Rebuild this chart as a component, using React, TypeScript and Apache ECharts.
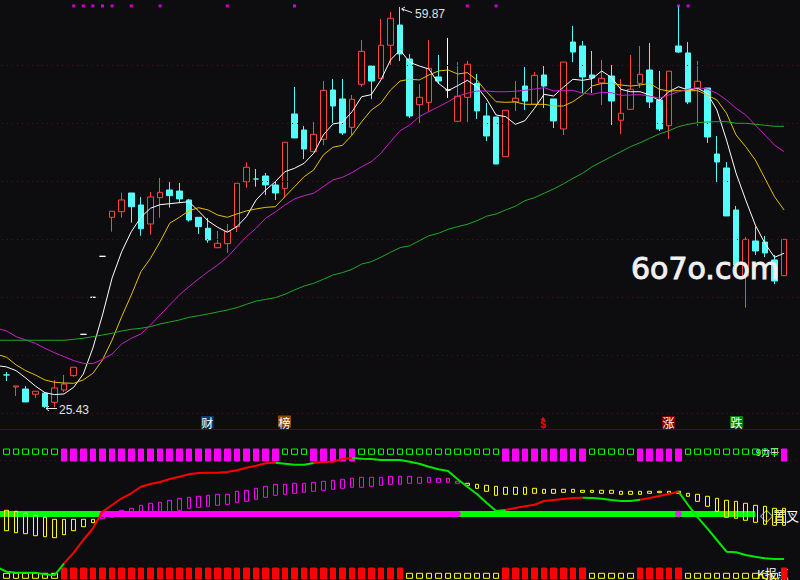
import React, { useEffect, useRef } from "react";
import * as echarts from "echarts";

// prices; first entry is the bar cut off at the left edge
const open = [29.89,
  28.26,27.23,27.05,26.60,26.69,25.91,26.97,28.20,31.75,34.93,
  38.45,41.80,42.29,43.89,42.86,41.23,43.49,44.15,44.06,43.29,
  41.80,40.86,39.19,39.54,41.00,44.86,45.09,45.35,44.58,44.29,
  50.68,49.30,47.44,48.50,52.74,51.97,49.53,53.23,54.80,53.74,
  56.58,58.32,55.40,51.48,51.68,53.86,52.74,50.05,52.11,53.31,
  50.51,50.42,47.01,51.73,53.08,51.51,54.03,51.97,49.39,56.86,
  56.52,54.03,53.34,53.94,50.14,51.08,53.31,54.46,51.88,49.67,
  56.52,55.92,52.88,52.91,47.24,46.04,42.43,36.76,39.77,39.68,
  38.14,36.79];
const close = [28.86,
  28.26,27.31,25.94,26.86,25.54,27.14,27.48,28.92,31.75,34.93,
  38.45,42.32,43.29,42.71,40.82,43.55,43.95,43.66,43.38,41.57,
  41.00,39.85,39.57,40.60,44.72,46.10,45.09,44.58,43.89,48.25,
  48.62,47.67,48.93,52.71,51.36,49.05,51.94,56.06,53.51,56.58,
  58.90,55.83,50.51,52.11,54.60,53.51,52.74,52.20,54.95,50.94,
  48.79,46.38,51.00,52.03,51.79,54.00,53.08,50.08,55.14,56.00,
  53.86,53.77,53.74,51.79,50.74,52.80,54.09,51.71,49.39,54.35,
  56.00,51.71,53.49,48.70,46.55,41.92,37.71,39.91,38.91,38.74,
  36.33,39.91];
const low = [28.86,
  27.74,26.45,25.94,26.28,25.43,25.47,26.80,28.11,31.75,34.93,
  38.45,40.57,41.77,41.34,40.22,40.31,41.77,42.63,43.01,41.43,
  40.37,39.62,39.19,38.76,40.54,44.35,44.43,43.72,43.29,43.52,
  48.62,46.81,47.44,47.99,49.82,48.87,48.87,53.02,51.97,53.74,
  54.89,55.23,50.33,49.90,50.88,53.25,52.05,50.05,49.99,50.25,
  48.36,46.38,47.01,50.94,51.02,51.51,51.19,49.47,48.87,55.14,
  52.48,52.48,51.45,49.73,48.96,51.08,52.91,51.19,49.22,48.53,
  55.92,51.54,49.65,48.19,44.84,41.92,37.71,34.04,38.57,38.39,
  36.07,36.79];
const high = [29.89,
  28.52,27.31,27.31,26.86,26.80,27.83,28.26,28.92,31.75,34.93,
  38.45,42.32,43.92,43.89,43.55,43.98,45.18,44.84,44.75,43.38,
  41.80,41.74,40.63,41.23,44.72,46.53,45.95,45.61,44.84,48.25,
  53.00,49.65,49.99,53.51,53.68,53.68,52.31,57.03,54.80,58.84,
  59.44,59.87,55.83,53.25,57.03,55.75,57.21,55.14,55.23,54.11,
  51.62,50.42,51.00,53.51,54.71,54.29,54.80,51.97,55.14,58.24,
  56.95,56.09,55.32,54.89,53.68,55.75,56.52,56.78,54.37,54.35,
  59.95,56.86,55.23,52.91,48.79,46.55,42.77,40.11,41.00,40.20,
  38.57,39.91];

const whiteFlatBars = [9, 10, 11, 47]; // one-price bars drawn white

const ma5 = [29.06,
  28.95,28.63,28.00,27.31,26.74,26.57,26.63,27.20,28.34,30.58,
  33.41,36.59,38.85,40.57,41.80,42.58,42.89,42.97,43.06,43.14,
  42.35,41.49,40.94,40.52,41.00,41.86,43.29,44.15,44.86,45.72,
  46.01,46.44,47.30,48.87,49.82,49.96,50.88,52.16,52.34,53.60,
  55.32,56.17,55.12,54.80,54.54,53.31,52.68,53.11,53.57,53.02,
  51.97,50.59,50.45,49.79,50.10,51.17,52.37,52.22,52.97,53.66,
  53.57,53.71,54.37,53.83,52.80,52.59,52.59,52.31,51.82,52.59,
  53.02,52.74,52.88,52.46,51.02,48.44,45.58,43.29,41.14,39.57,
  38.37,38.71];
const ma10 = [30.04,
  29.78,29.12,28.63,28.26,27.83,27.63,27.57,27.54,27.83,28.40,
  29.55,31.26,33.27,35.13,37.13,38.28,39.71,41.29,41.80,42.35,
  42.63,42.43,42.00,41.80,42.09,42.35,42.52,42.66,42.71,43.57,
  44.43,45.29,45.87,47.16,47.82,47.99,48.87,50.02,51.02,51.60,
  52.74,53.51,53.66,53.60,54.03,54.37,54.46,54.11,54.23,53.60,
  52.59,51.73,51.68,51.71,51.51,51.51,51.51,51.36,51.36,51.73,
  52.31,53.08,53.31,53.31,53.17,53.08,53.17,53.31,52.80,52.65,
  52.68,52.68,52.68,52.31,51.88,50.74,48.87,47.87,46.73,45.15,
  43.57,42.43];
const ma30 = [32.27,
  32.04,31.55,31.26,30.98,30.55,30.17,29.83,29.49,29.26,29.23,
  29.60,30.06,30.92,31.41,31.78,32.55,33.41,34.27,35.13,35.84,
  36.50,37.13,37.71,38.37,39.28,40.14,40.86,41.72,42.26,42.86,
  43.38,43.66,43.87,44.43,45.01,45.24,45.64,46.15,46.58,47.30,
  48.30,49.24,49.73,50.45,50.88,51.30,51.73,52.22,52.46,52.65,
  52.65,52.59,52.59,52.63,52.71,52.82,52.94,52.65,52.71,52.71,
  52.46,52.37,52.54,52.51,52.28,52.31,52.34,52.22,52.03,52.31,
  52.59,52.80,52.94,52.82,52.46,51.88,51.17,50.59,49.73,48.87,
  48.01,47.44];
const ma120 = [31.24,
  31.24,31.24,31.24,31.24,31.24,31.24,31.24,31.32,31.41,31.55,
  31.69,31.84,32.04,32.18,32.27,32.41,32.64,32.81,32.98,33.21,
  33.35,33.50,33.67,33.84,34.04,34.33,34.61,34.75,34.90,35.19,
  35.56,35.90,36.13,36.48,36.85,37.05,37.34,37.79,37.99,38.37,
  38.80,39.19,39.36,39.79,40.22,40.43,40.77,41.00,41.20,41.51,
  41.89,42.09,42.43,42.75,43.23,43.49,43.87,44.24,44.67,45.15,
  45.58,46.15,46.58,47.01,47.44,47.87,48.21,48.59,48.96,49.24,
  49.59,49.79,49.93,49.99,50.02,50.02,49.88,49.88,49.79,49.71,
  49.62,49.62];

const topSignalBars = [8, 9, 10, 11, 12, 14, 17, 24, 31, 49, 52, 71, 72];
const gridPrices = [54.86, 49.88, 44.90, 39.92, 34.93, 29.95, 24.97];

// lower indicator
const histTop = [null,
  3.7,2.7,0.7,-1.3,-3.3,-5.3,-5.3,-5.3,-5.3,-5.3,
  -1.3,0.7,3.7,5.7,8.7,10.7,11.7,13.7,15.7,16.7,
  17.7,18.7,19.7,19.7,22.7,23.7,25.7,27.7,29.7,29.7,
  30.7,30.7,31.7,32.7,33.7,34.7,35.7,36.7,36.7,36.7,
  37.7,37.7,37.7,36.7,36.7,35.7,35.7,32.7,30.7,29.7,
  28.7,27.7,26.7,26.7,26.7,25.7,24.7,24.7,24.7,24.7,
  23.7,23.7,23.7,23.7,22.7,22.7,22.7,22.7,22.7,22.7,
  22.7,20.7,19.7,17.7,15.7,13.7,12.7,10.7,8.7,7.7,
  5.7,5.7];
const histBottom = [null,
  -16.7,-18.7,-19.7,-21.7,-22.7,-23.7,-20.7,-16.7,-12.7,-8.7,
  -4.7,-3.3,-2.7,-1.7,-0.7,0.7,1.7,2.3,3.7,5.7,
  6.7,7.7,8.7,9.7,11.7,12.7,14.7,16.7,18.7,19.7,
  20.7,21.7,22.7,23.7,24.7,25.7,26.7,26.7,27.7,28.7,
  29.7,29.7,30.7,30.7,31.7,31.7,31.7,30.7,28.7,25.7,
  22.7,18.7,19.7,19.7,19.7,20.7,20.7,20.7,21.7,21.7,
  21.7,21.7,20.7,20.7,19.7,19.7,19.7,20.7,21.3,20.7,
  20.7,17.7,12.7,7.7,2.7,-3.3,-4.3,-6.3,-8.3,-10.3,
  -11.3,-11.3];
const signal = [-53.3,
  -57.7,-58.7,-58.7,-58.7,-60.3,-61.3,-49.3,-38.7,-26,-14.3,
  2.3,9,15.7,20.7,27.3,30,32,35,37.3,39.7,
  41,41.3,41.3,42,43.7,46.3,48.3,50.7,51.3,50.3,
  49.3,49.3,51,52,52.3,55,56,55.3,55,54,
  54,54,52.3,50.3,47.3,44.7,43,34.7,27.3,20,
  11.3,3,4,6,7.7,9.3,13,14,15,16,
  16.3,16,15.3,14,13,13,14.3,16,18,20,
  22.3,9,-3.3,-14.3,-26,-37.7,-38.3,-41,-42.7,-44.3,
  -45,-45];

// inclusive index ranges
const signalUpRanges = [[7, 29], [33, 37], [53, 61], [67, 71]];
const histUpRange = [11, 48];
const bandUpRange = [11, 48];
const bandEnd = 79;
const bandBlip = 71;
const topFilledRanges = [[7, 29], [33, 37], [53, 61], [67, 71], [82, 82]];
const bottomFilledRanges = [[7, 42], [53, 61], [67, 71], [82, 82]];

const categories = open.map((_, i) => String(i));

const inRanges = (i: number, r: number[][]) => r.some(([a, b]) => i >= a && i <= b);

const RED = "#ff4444";
const CYAN = "#54fcfc";
const BG = "#0d0d10";
const CJK = "'Noto Sans CJK SC', sans-serif";

const box = (v: number[], stroke: string, fill: string) => ({
  value: v,
  itemStyle: { color: fill, color0: fill, borderColor: stroke, borderColor0: stroke, borderColorDoji: stroke },
});

const mainData = open.map((o, i) => {
  const c = close[i];
  const v = [o, c, low[i], high[i]];
  if (c > o) return box(v, RED, "transparent");
  if (c < o) return box(v, CYAN, CYAN);
  return box(v, whiteFlatBars.includes(i) ? "#ffffff" : CYAN, CYAN);
});

const histData = histTop.map((t, i) => {
  if (t === null) return { value: [0, 0, 0, 0], itemStyle: { opacity: 0 } };
  const b = histBottom[i] as number;
  const col = i >= histUpRange[0] && i <= histUpRange[1] ? "#ff00ff" : "#ffff00";
  return box([b, t, b, t], col, "transparent");
});

const topRow = categories.map((_, i) =>
  inRanges(i, topFilledRanges)
    ? box([53, 65, 53, 65], "#ff00ff", "#ff00ff")
    : box([59.7, 65, 59.7, 65], "#00ff00", "transparent"));
const bottomRow = categories.map((_, i) =>
  inRanges(i, bottomFilledRanges)
    ? box([-65, -54, -65, -54], "#ff0000", "#ff0000")
    : box([-64.3, -59.3, -64.3, -59.3], "#ffff00", "transparent"));

const signalUp = signal.map((v, i) => (inRanges(i, signalUpRanges) ? v : null));
const signalDown = signal.map((v, i) =>
  signalUpRanges.some(([a, b]) => i > a && i < b) ? null : v);

const bandGreen = categories.map((_, i) => (i <= bandEnd ? 0 : null));
const bandMagenta = categories.map((_, i) =>
  i >= bandUpRange[0] && i <= bandUpRange[1] ? 0 : null);

const maLine = (name: string, data: number[], color: string) => ({
  name, type: "line", data, xAxisIndex: 0, yAxisIndex: 0, showSymbol: false,
  symbol: "none", lineStyle: { color, width: 1 }, z: 5, clip: true,
});

const iconBox = (x: number, y: number, w: number, h: number, fill: string, t: string, col: string) => ([
  { type: "rect", z: 3, silent: true, shape: { x, y, width: w, height: h }, style: { fill } },
  {
    type: "text", z: 4, silent: true, x: x + w / 2, y: y + h / 2 + 0.5,
    style: { text: t, fill: col, font: `12px ${CJK}`, textAlign: "center", textVerticalAlign: "middle" },
  },
]);

const dotted = "#5e1010";

export default function App() {
  const ref = useRef<HTMLDivElement>(null);
  useEffect(() => {
    if (!ref.current) return;
    const chart = echarts.init(ref.current, undefined, { renderer: "svg" });
    const hiddenCat = (gridIndex: number) => ({
      type: "category", gridIndex, data: categories, show: false, boundaryGap: true,
    });
    chart.setOption({
      animation: false,
      backgroundColor: BG,
      // the chart's canvas starts 8px left of the page, so that the first bar is cut off by the edge
      grid: [
        { left: 0.1, top: 0, width: 796.8, height: 430, containLabel: false },
        { left: 0.1, top: 430, width: 796.8, height: 150, containLabel: false },
        { left: 10, top: 0, width: 798, height: 430, containLabel: false },
      ],
      xAxis: [
        hiddenCat(0),
        hiddenCat(1),
        { type: "value", gridIndex: 2, min: 0, max: 1, show: false },
      ],
      yAxis: [
        { type: "value", gridIndex: 0, min: 23.53, max: 60.47, show: false, splitLine: { show: false } },
        { type: "value", gridIndex: 1, min: -66, max: 84, show: false, splitLine: { show: false } },
        { type: "value", gridIndex: 2, min: 23.53, max: 60.47, show: false, splitLine: { show: false } },
      ],
      series: [
        {
          name: "levels", type: "line", xAxisIndex: 2, yAxisIndex: 2, symbol: "none", z: 1,
          data: [[0, gridPrices[0]]], lineStyle: { width: 0 },
          markLine: {
            silent: true, symbol: "none", label: { show: false },
            lineStyle: { color: dotted, type: [1, 4], width: 1 },
            data: gridPrices.map((p) => ({ yAxis: p })),
          },
        },
        {
          name: "K", type: "candlestick", xAxisIndex: 0, yAxisIndex: 0,
          barWidth: 6, data: mainData, z: 3, itemStyle: { borderWidth: 1 },
        },
        maLine("MA5", ma5, "#ffffff"),
        maLine("MA10", ma10, "#e6c000"),
        maLine("MA30", ma30, "#cc1fcc"),
        maLine("MA120", ma120, "#1fa82a"),
        {
          name: "signals", type: "scatter", xAxisIndex: 0, yAxisIndex: 0, symbol: "rect", symbolSize: 3,
          data: topSignalBars.map((i) => [i, 59.96]), itemStyle: { color: "#ff00ff" }, z: 6,
        },
        {
          name: "topRow", type: "candlestick", xAxisIndex: 1, yAxisIndex: 1, barWidth: 6, data: topRow, z: 3,
        },
        {
          name: "bottomRow", type: "candlestick", xAxisIndex: 1, yAxisIndex: 1, barWidth: 6, data: bottomRow, z: 3,
        },
        {
          name: "bandGreen", type: "line", xAxisIndex: 1, yAxisIndex: 1, data: bandGreen, symbol: "none",
          lineStyle: { color: "#00ff00", width: 6 }, z: 3,
        },
        {
          name: "bandMagenta", type: "line", xAxisIndex: 1, yAxisIndex: 1, data: bandMagenta, symbol: "none",
          lineStyle: { color: "#ff00ff", width: 6, cap: "round" }, z: 4,
        },
        {
          name: "bandBlip", type: "scatter", xAxisIndex: 1, yAxisIndex: 1, symbol: "circle", symbolSize: 7,
          data: [[bandBlip, 0]], itemStyle: { color: "#ff00ff" }, z: 4,
        },
        {
          name: "hist", type: "candlestick", xAxisIndex: 1, yAxisIndex: 1, barWidth: 4, data: histData, z: 5,
        },
        {
          name: "signalDown", type: "line", xAxisIndex: 1, yAxisIndex: 1, data: signalDown, symbol: "none",
          lineStyle: { color: "#00e800", width: 2 }, z: 6,
        },
        {
          name: "signalUp", type: "line", xAxisIndex: 1, yAxisIndex: 1, data: signalUp, symbol: "none",
          lineStyle: { color: "#ff0000", width: 2 }, z: 7,
        },
      ],
      graphic: [{
        type: "group", x: 8, y: 0, silent: true,
        children: [
          { type: "line", z: 1, shape: { x1: 0, y1: 429.5, x2: 800, y2: 429.5 }, style: { stroke: "#5e0808", lineWidth: 1 } },
          { type: "line", z: 1, shape: { x1: 0, y1: 460.5, x2: 800, y2: 460.5 }, style: { stroke: dotted, lineWidth: 1, lineDash: [1, 4] } },
          // extreme-price callouts
          { type: "polyline", z: 8, shape: { points: [[402, 9], [412, 12.5]] }, style: { stroke: "#e8e8e8", lineWidth: 1, fill: "none" } },
          { type: "polyline", z: 8, shape: { points: [[405, 7], [401.5, 9], [404, 11]] }, style: { stroke: "#e8e8e8", lineWidth: 1, fill: "none" } },
          { type: "text", z: 8, x: 415, y: 13.5, style: { text: "59.87", fill: "#e0e0e0", font: "12px 'Liberation Sans'", textVerticalAlign: "middle" } },
          { type: "polyline", z: 8, shape: { points: [[46, 408.5], [57, 408.5]] }, style: { stroke: "#e8e8e8", lineWidth: 1, fill: "none" } },
          { type: "polyline", z: 8, shape: { points: [[49, 406], [46, 408.5], [49, 411]] }, style: { stroke: "#e8e8e8", lineWidth: 1, fill: "none" } },
          { type: "text", z: 8, x: 59, y: 410, style: { text: "25.43", fill: "#e0e0e0", font: "12px 'Liberation Sans'", textVerticalAlign: "middle" } },
          // event badges
          ...iconBox(201, 416, 12.5, 12, "#0c3c6c", "财", "#ffffff"),
          ...iconBox(278, 415.5, 13, 12, "#8a4a00", "榜", "#ffffff"),
          { type: "polygon", z: 4, shape: { points: [[543, 417], [540.5, 420], [545.5, 420]] }, style: { fill: "#ff0000" } },
          { type: "text", z: 4, x: 543, y: 424.5, style: { text: "$", fill: "#ff0000", font: "bold 10px 'Liberation Sans'", textAlign: "center", textVerticalAlign: "middle" } },
          ...iconBox(662, 416, 13, 12, "#800000", "涨", "#ffffff"),
          ...iconBox(730, 416, 13, 12, "#008000", "跌", "#ffffff"),
          // right-edge tags, under the histogram
          { type: "text", z: 2, x: 756, y: 452, style: { text: "9力干", fill: "#ffffff", font: `9px ${CJK}`, textVerticalAlign: "middle" } },
          { type: "text", z: 2, x: 760, y: 515, style: { text: "◇置叉", fill: "#ffffff", font: `13px ${CJK}`, textVerticalAlign: "middle" } },
          { type: "text", z: 2, x: 757, y: 573, style: { text: "K报点", fill: "#ffffff", font: `12px ${CJK}`, textVerticalAlign: "middle" } },
          // watermark
          { type: "text", z: 50, x: 631, y: 268, style: { text: "6o7o.com", fill: "#f0f0f0", stroke: "#f0f0f0", lineWidth: 1, font: "30px 'DejaVu Sans'", textVerticalAlign: "middle" } },
        ],
      }],
    });
    return () => chart.dispose();
  }, []);
  return (
    <div style={{ position: "absolute", left: 0, top: 0, width: 800, height: 580, overflow: "hidden" }}>
      <div ref={ref} style={{ position: "absolute", left: -8, top: 0, width: 808, height: 580 }} />
    </div>
  );
}
